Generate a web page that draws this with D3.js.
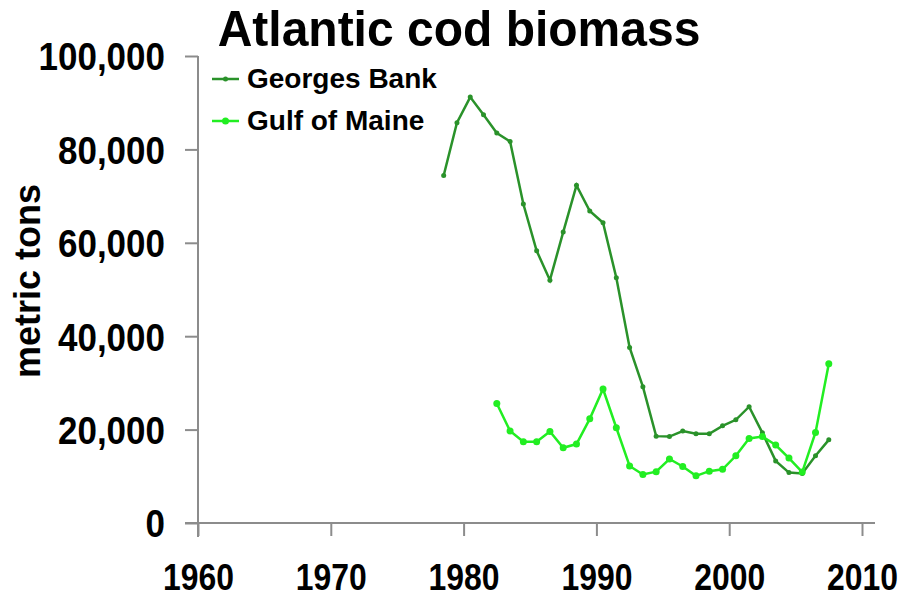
<!DOCTYPE html>
<html>
<head>
<meta charset="utf-8">
<script src="https://cdn.jsdelivr.net/npm/d3@7"></script>
<style>
  body { margin: 0; background: #fff; }
  svg text { font-family: Arial, "Liberation Sans", sans-serif; font-weight: bold; fill: #000; }
</style>
</head>
<body>
<svg width="914" height="599"></svg>
<script>
var georgesYears = [1978, 1979, 1980, 1981, 1982, 1983, 1984, 1985, 1986, 1987,
  1988, 1989, 1990, 1991, 1992, 1993, 1994, 1995, 1996, 1997,
  1998, 1999, 2000, 2001, 2002, 2003, 2004, 2005, 2006, 2007];
var georgesBank = [74400, 85700, 91200, 87400, 83500, 81700, 68300, 58300, 52000, 62300,
  72300, 66800, 64300, 52500, 37600, 29200, 18600, 18500, 19700, 19100,
  19100, 20800, 22100, 24900, 19300, 13300, 10800, 10600, 14400, 17800];

var gulfYears = [1982, 1983, 1984, 1985, 1986, 1987, 1988, 1989, 1990, 1991,
  1992, 1993, 1994, 1995, 1996, 1997, 1998, 1999, 2000, 2001,
  2002, 2003, 2004, 2005, 2006, 2007];
var gulfOfMaine = [25600, 19700, 17400, 17400, 19600, 16100, 16900, 22300, 28700, 20400,
  12200, 10400, 11000, 13700, 12100, 10100, 11100, 11500, 14400, 18100,
  18500, 16700, 13900, 10900, 19400, 34100];

var xTicks = [1960, 1970, 1980, 1990, 2000, 2010];
var yTicks = [0, 20000, 40000, 60000, 80000, 100000];

var series = [
  { name: "Georges Bank", years: georgesYears, values: georgesBank, color: "#2a922a", r: 2.5 },
  { name: "Gulf of Maine", years: gulfYears, values: gulfOfMaine, color: "#22ee22", r: 3.5 }
];

var svg = d3.select("svg");
var x = d3.scaleLinear().domain([1960, 2010]).range([198, 862]);
var y = d3.scaleLinear().domain([0, 100000]).range([523, 56]);
var axisColor = "#8c8c8c";

// title
svg.append("text").attr("transform", "translate(459,46) scale(1,1.05)")
  .attr("text-anchor", "middle").style("font-size", "48px")
  .text("Atlantic cod biomass");

// y axis
var yAxis = svg.append("g").attr("transform", "translate(198,0)")
  .call(d3.axisLeft(y).tickValues(yTicks).tickSize(13).tickPadding(20)
    .tickFormat(d3.format(",")));
yAxis.select(".domain").remove();
yAxis.selectAll(".tick line").attr("stroke", axisColor).attr("stroke-width", 2);
yAxis.selectAll(".tick text").style("font-size", "35px").attr("dy", "0.36em")
  .attr("transform", "scale(1,1.1)");
svg.append("line").attr("x1", 198).attr("x2", 198).attr("y1", y(100000)).attr("y2", 537)
  .attr("stroke", axisColor).attr("stroke-width", 2);

// x axis
var xAxis = svg.append("g").attr("transform", "translate(0,523)")
  .call(d3.axisBottom(x).tickValues(xTicks).tickSize(13).tickFormat(d3.format("d")));
xAxis.select(".domain").remove();
xAxis.selectAll(".tick line").attr("stroke", axisColor).attr("stroke-width", 2);
xAxis.selectAll(".tick text").style("font-size", "31px").attr("y", 57).attr("dy", 0)
  .attr("transform", "scale(1.03,1.18)");
svg.append("line").attr("x1", 185).attr("x2", 875).attr("y1", 523).attr("y2", 523)
  .attr("stroke", axisColor).attr("stroke-width", 2);

// y axis title
svg.append("text").attr("transform", "translate(40,281) rotate(-90)")
  .attr("text-anchor", "middle").style("font-size", "36px")
  .text("metric tons");

// lines and markers
var line = d3.line()
  .x(function(d) { return x(d.year + 0.5); })
  .y(function(d) { return y(d.value); });

series.forEach(function(s) {
  var pts = s.years.map(function(yr, i) { return { year: yr, value: s.values[i] }; });
  svg.append("path").datum(pts)
    .attr("fill", "none").attr("stroke", s.color).attr("stroke-width", 2.5)
    .attr("d", line);
  svg.append("g").selectAll("circle").data(pts).enter().append("circle")
    .attr("cx", function(d) { return x(d.year + 0.5); })
    .attr("cy", function(d) { return y(d.value); })
    .attr("r", s.r).attr("fill", s.color);
});

// legend
var legend = svg.append("g");
series.forEach(function(s, i) {
  var ly = 79 + i * 42;
  legend.append("line").attr("x1", 212).attr("x2", 239).attr("y1", ly).attr("y2", ly)
    .attr("stroke", s.color).attr("stroke-width", 2.5);
  legend.append("circle").attr("cx", 225.5).attr("cy", ly).attr("r", s.r).attr("fill", s.color);
  legend.append("text").attr("x", 247).attr("y", ly + 9).style("font-size", "28px").text(s.name);
});
</script>
</body>
</html>
